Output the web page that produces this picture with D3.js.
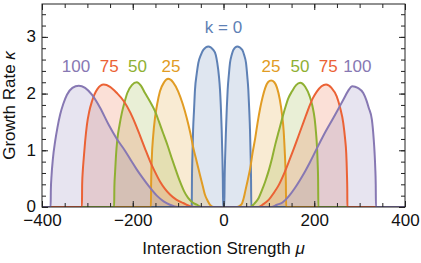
<!DOCTYPE html>
<html>
<head>
<meta charset="utf-8">
<script src="https://cdn.jsdelivr.net/npm/d3@7.9.0/dist/d3.min.js"></script>
<style>
  body { margin: 0; background: #fff; }
  svg { display: block; font-family: "Liberation Sans", Arial, sans-serif; }
  .axis text { font-size: 17px; fill: #111; }
  .axis path { display: none; }
  .axis line { stroke: #222; stroke-width: 1; }
</style>
</head>
<body>
<svg id="chart" width="421" height="263"></svg>
<script>
// growth rate kappa vs interaction strength mu, one array per k
const k0 = [[-400,0],[-70,0],[-69.5,0.5],[-68.5,0.9],[-67,1.36],[-65,1.7],[-62.8,2.07],[-59,2.35],[-55.5,2.54],[-50,2.68],[-44.5,2.77],[-33.5,2.83],[-22.5,2.77],[-17,2.68],[-13.7,2.54],[-10,2.3],[-7.7,2.07],[-5.5,1.7],[-4,1.36],[-2.5,0.9],[-1.5,0.5],[-0.8,0],[1.8,0],[2.5,0.5],[3.5,0.85],[5.5,1.36],[7.3,1.75],[9.2,2.07],[12,2.35],[14.3,2.54],[18,2.68],[21.6,2.77],[30.4,2.83],[41.4,2.77],[45.5,2.68],[49.6,2.54],[52.5,2.3],[54.7,2.07],[56.8,1.7],[58.4,1.36],[59.8,0.9],[60.7,0.5],[61.3,0],[400,0]];
const k25 = [[-400,0],[-160,0],[-159.5,0.4],[-158,0.86],[-155,1.25],[-151,1.57],[-146,1.82],[-140,2.04],[-131,2.2],[-122,2.26],[-111,2.2],[-100,2.04],[-90,1.82],[-81,1.57],[-73,1.3],[-66.5,1.04],[-59,0.8],[-52,0.57],[-46,0.38],[-41,0.22],[-35,0.11],[-30,0.04],[-22,0],[30,0],[40,0.05],[44,0.14],[48,0.28],[53,0.46],[59,0.69],[64,0.95],[70,1.22],[75,1.48],[81,1.75],[86,1.93],[92,2.1],[98,2.2],[105,2.23],[112,2.2],[118,2.1],[124,1.9],[129,1.63],[132.5,1.35],[135,0.98],[136.5,0.7],[137.5,0.4],[138,0],[400,0]];
const k50 = [[-400,0],[-241,0],[-240.5,0.35],[-239,0.6],[-237,0.9],[-234,1.19],[-229,1.45],[-224,1.66],[-218,1.85],[-212,2.01],[-202,2.15],[-191,2.2],[-182,2.14],[-173,2.01],[-162,1.86],[-151,1.69],[-142,1.5],[-133,1.3],[-123,1.08],[-114,0.86],[-105,0.65],[-96,0.45],[-87,0.28],[-78,0.16],[-68,0.08],[-59,0.04],[-48,0],[59,0],[68,0.06],[77.5,0.16],[85,0.3],[92,0.45],[100,0.65],[107,0.86],[114,1.1],[121.6,1.33],[129,1.55],[136,1.75],[143,1.92],[151,2.04],[160,2.15],[169,2.19],[180,2.12],[190,1.95],[196,1.78],[201,1.55],[204,1.3],[206,1.07],[207.5,0.78],[208.5,0.48],[209,0],[400,0]];
const k75 = [[-400,0],[-312,0],[-311.5,0.4],[-310,0.65],[-308,0.86],[-305,1.15],[-301,1.45],[-296,1.68],[-290,1.86],[-278,2.08],[-264,2.16],[-250,2.12],[-235,2.01],[-220,1.87],[-205,1.66],[-195,1.48],[-184,1.26],[-173,1.03],[-162,0.81],[-151,0.62],[-140,0.45],[-129,0.32],[-118,0.22],[-104,0.13],[-89,0.07],[-67,0],[77,0],[88,0.05],[100,0.13],[111,0.25],[122,0.39],[133,0.58],[144,0.8],[155,1.03],[166,1.27],[177,1.51],[188,1.75],[197,1.92],[206,2.04],[216,2.13],[226,2.16],[238,2.1],[249.5,1.95],[257,1.75],[264,1.48],[268,1.2],[270.5,0.95],[272,0.6],[272.8,0.3],[273,0],[400,0]];
const k100 = [[-400,0],[-381,0],[-380.5,0.3],[-379,0.55],[-376,0.85],[-371,1.16],[-366,1.4],[-360,1.63],[-353,1.82],[-345,1.98],[-333,2.1],[-319,2.14],[-305,2.1],[-290,1.98],[-272,1.75],[-253,1.45],[-235,1.2],[-216,0.98],[-203,0.81],[-191,0.66],[-177,0.5],[-162,0.34],[-147,0.2],[-132,0.1],[-118,0.04],[-100,0],[105,0],[118,0.04],[130,0.08],[145,0.2],[157,0.33],[169,0.48],[180,0.63],[190,0.78],[205,1.02],[225,1.33],[242,1.57],[253,1.73],[264,1.89],[274,2.04],[284,2.13],[296,2.1],[308,2.01],[315,1.88],[320,1.75],[327,1.54],[331,1.2],[333,0.95],[334.5,0.68],[335.5,0.4],[336,0],[400,0]];

const seriesK = ['0', '25', '50', '75', '100'];
const seriesColors = ['#5E81B5', '#E19C24', '#8FB032', '#EB6235', '#8778B3'];

// curve labels, anchored in data units
const labelText = ['k = 0', '100', '75', '50', '25', '25', '50', '75', '100'];
const labelMu = [0, -325, -252, -189.5, -115.7, 104.7, 168.6, 231, 295];
const labelKappa = [3.07, 2.38, 2.38, 2.38, 2.38, 2.38, 2.38, 2.38, 2.38];
const labelSeries = [0, 4, 3, 2, 1, 1, 2, 3, 4];

const xMajor = [-400, -200, 0, 200, 400];
const yMajor = [0, 1, 2, 3];

const allSeries = [k0, k25, k50, k75, k100];

const svg = d3.select('#chart');
const margin = { top: 4, right: 16, bottom: 56, left: 42 };
const width = 421 - margin.left - margin.right;
const height = 263 - margin.top - margin.bottom;

const x = d3.scaleLinear().domain([-400, 400]).range([0, width]);
const y = d3.scaleLinear().domain([0, 3.58]).range([height, 0]);

const g = svg.append('g').attr('transform', `translate(${margin.left},${margin.top})`);

g.append('clipPath').attr('id', 'clip')
  .append('rect').attr('width', width).attr('height', height);

const area = d3.area()
  .x((d) => x(d[0]))
  .y0(y(0))
  .y1((d) => y(d[1]))
  .curve(d3.curveMonotoneX);

const line = d3.line()
  .x((d) => x(d[0]))
  .y((d) => y(d[1]))
  .curve(d3.curveMonotoneX);

const plot = g.append('g').attr('clip-path', 'url(#clip)');

allSeries.forEach((s, i) => {
  plot.append('path')
    .attr('d', area(s))
    .attr('fill', seriesColors[i])
    .attr('fill-opacity', 0.2);
});

allSeries.forEach((s, i) => {
  plot.append('path')
    .attr('d', line(s))
    .attr('fill', 'none')
    .attr('stroke', seriesColors[i])
    .attr('stroke-width', 2);
});

// ticks on all four sides, pointing inward
const xMinor = d3.range(-400, 401, 50);
const yMinor = d3.range(0, 3.58, 0.2);

g.append('g').attr('class', 'axis').attr('transform', `translate(0,${height})`)
  .call(d3.axisBottom(x).tickValues(xMinor).tickFormat('').tickSizeInner(-4).tickSizeOuter(0));
g.append('g').attr('class', 'axis').attr('transform', `translate(0,${height})`)
  .call(d3.axisBottom(x).tickValues(xMajor).tickSizeInner(-6).tickSizeOuter(0).tickPadding(7));
g.append('g').attr('class', 'axis')
  .call(d3.axisTop(x).tickValues(xMinor).tickFormat('').tickSizeInner(-4).tickSizeOuter(0));
g.append('g').attr('class', 'axis')
  .call(d3.axisTop(x).tickValues(xMajor).tickFormat('').tickSizeInner(-6).tickSizeOuter(0));

g.append('g').attr('class', 'axis')
  .call(d3.axisLeft(y).tickValues(yMinor).tickFormat('').tickSizeInner(-4).tickSizeOuter(0));
g.append('g').attr('class', 'axis')
  .call(d3.axisLeft(y).tickValues(yMajor).tickFormat(d3.format('d')).tickSizeInner(-6).tickSizeOuter(0).tickPadding(6))
  .selectAll('text').attr('dy', '0.28em');
g.append('g').attr('class', 'axis').attr('transform', `translate(${width},0)`)
  .call(d3.axisRight(y).tickValues(yMinor).tickFormat('').tickSizeInner(-4).tickSizeOuter(0));
g.append('g').attr('class', 'axis').attr('transform', `translate(${width},0)`)
  .call(d3.axisRight(y).tickValues(yMajor).tickFormat('').tickSizeInner(-6).tickSizeOuter(0));

g.append('rect')
  .attr('width', width).attr('height', height)
  .attr('fill', 'none').attr('stroke', '#222').attr('stroke-width', 1);

// curve labels
labelText.forEach((t, i) => {
  g.append('text')
    .attr('x', x(labelMu[i]))
    .attr('y', y(labelKappa[i]))
    .attr('text-anchor', 'middle')
    .attr('font-size', 17)
    .attr('fill', seriesColors[labelSeries[i]])
    .text(t);
});

// axis titles
const xTitle = g.append('text')
  .attr('x', width / 2)
  .attr('y', height + 47)
  .attr('text-anchor', 'middle')
  .attr('font-size', 17)
  .attr('fill', '#111');
xTitle.append('tspan').text('Interaction Strength ');
xTitle.append('tspan').attr('font-style', 'italic').text('μ');

const yTitle = g.append('text')
  .attr('transform', `translate(${-27},${height / 2}) rotate(-90)`)
  .attr('text-anchor', 'middle')
  .attr('font-size', 17)
  .attr('fill', '#111');
yTitle.append('tspan').text('Growth Rate ');
yTitle.append('tspan').attr('font-style', 'italic').text('κ');
</script>
</body>
</html>
